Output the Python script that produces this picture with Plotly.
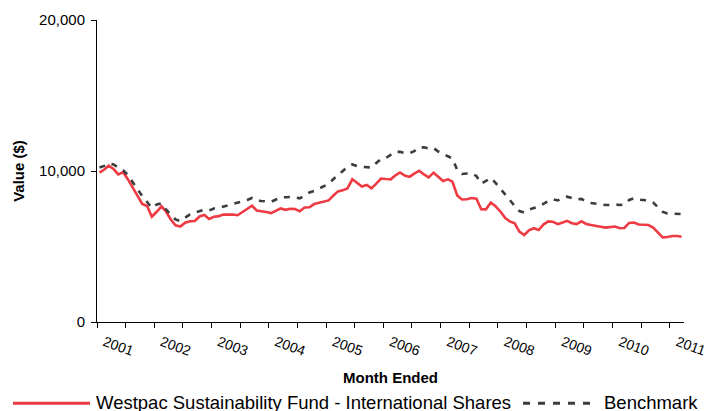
import plotly.graph_objects as go
import pandas as pd

# ---- data -------------------------------------------------------------
months = pd.date_range("2001-01-01", periods=123, freq="MS")

fund = [9890, 10100, 10350, 10130, 9780, 9920, 9460, 8910, 8360, 7815,
        7680, 6970, 7300, 7660, 7320, 6790, 6400, 6320, 6580, 6670,
        6690, 6990, 7090, 6820, 6970, 7010, 7110, 7140, 7120, 7070,
        7260, 7460, 7700, 7380, 7350, 7280, 7210, 7370, 7520, 7430,
        7500, 7480, 7330, 7580, 7600, 7810, 7890, 7960, 8050, 8380,
        8650, 8720, 8850, 9450, 9230, 8970, 9070, 8850, 9160, 9500,
        9470, 9450, 9700, 9900, 9700, 9610, 9830, 10020, 9770, 9580,
        9890, 9600, 9340, 9450, 9300, 8380, 8110, 8130, 8210, 8160,
        7470, 7460, 7910, 7660, 7320, 6890, 6660, 6540, 5990, 5760,
        6070, 6210, 6090, 6450, 6660, 6640, 6480, 6590, 6700, 6540,
        6480, 6670, 6490, 6420, 6340, 6310, 6250, 6260, 6320, 6210,
        6230, 6560, 6590, 6460, 6420, 6420, 6260, 5930, 5610, 5630,
        5700, 5700, 5650]

bench = [10230, 10340, 10500, 10430, 10240, 10050, 9740, 9240, 8750, 8340,
         7950, 7550, 7780, 7850, 7450, 7090, 6790, 6690, 6890, 7120,
         7250, 7350, 7430, 7380, 7520, 7560, 7640, 7710, 7780, 7880,
         7990, 8080, 8210, 8050, 8010, 7980, 7960, 8110, 8250, 8260,
         8280, 8250, 8190, 8380, 8580, 8680, 8840, 9010, 9140, 9470,
         9740, 10000, 10270, 10430, 10330, 10280, 10270, 10230, 10530, 10800,
         10860, 11060, 11260, 11270, 11190, 11170, 11320, 11560, 11570, 11490,
         11520, 11290, 11130, 10990, 10830, 10070, 9800, 9830, 9850, 9670,
         9170, 9340, 9540, 9210, 8840, 8480, 8080, 7680, 7350, 7250,
         7450, 7550, 7650, 7820, 8010, 8130, 8050, 8210, 8300, 8210,
         8110, 8150, 7980, 7880, 7830, 7780, 7750, 7750, 7780, 7750,
         7780, 8080, 8190, 8110, 8080, 8050, 7910, 7620, 7290, 7190,
         7170, 7190, 7150]

year_ticks = ["2001-01-01", "2002-01-01", "2003-01-01", "2004-01-01",
              "2005-01-01", "2006-01-01", "2007-01-01", "2008-01-01",
              "2009-01-01", "2010-01-01", "2011-01-01"]
year_labels = ["2001", "2002", "2003", "2004", "2005", "2006",
               "2007", "2008", "2009", "2010", "2011"]
y_ticks = [0, 10000, 20000]

fund_name = "Westpac Sustainability Fund - International Shares"
bench_name = "Benchmark"

# ---- style -----------------------------------------------------------
FONT = "Liberation Sans, Arial, sans-serif"
RED = "#EE3B43"
DARK = "#3C3C3C"
W, H = 710, 411
ML, MR, MT, MB = 97, 26, 20, 89
PW, PH = W - ML - MR, H - MT - MB


def px_x(px):
    return (px - ML) / PW


def px_y(py):
    return (MT + PH - py) / PH


fig = go.Figure()
fig.add_trace(go.Scatter(x=months, y=fund, mode="lines", name=fund_name,
                         line=dict(color=RED, width=2.6), showlegend=False))
fig.add_trace(go.Scatter(x=months, y=bench, mode="lines", name=bench_name,
                         line=dict(color=DARK, width=2.6, dash="6px,7px"),
                         showlegend=False))

fig.update_layout(
    width=W, height=H,
    margin=dict(l=ML, r=MR, t=MT, b=MB, pad=0, autoexpand=False),
    paper_bgcolor="white", plot_bgcolor="white",
    font=dict(family=FONT, color="black"),
    xaxis=dict(
        type="date", automargin=False,
        range=["2000-12-16 12:00", "2011-03-16 12:00"],
        tickmode="array", tickvals=year_ticks, ticktext=year_labels,
        ticks="", tickangle=20, tickfont=dict(size=14),
        ticklabelshift=5, ticklabelstandoff=6,
        minor=dict(tickmode="linear", tick0="2000-12-16 12:00", dtick="M6",
                   ticks="outside", ticklen=5, tickwidth=1, tickcolor="black",
                   showgrid=False),
        showline=True, linecolor="black", linewidth=1,
        showgrid=False, zeroline=False,
        title=dict(text="<b>Month Ended</b>", font=dict(size=15), standoff=14),
    ),
    yaxis=dict(
        automargin=False,
        range=[0, 20000], tickmode="array", tickvals=y_ticks,
        tickformat=",", ticks="outside", ticklen=5, tickwidth=1,
        tickcolor="black", tickfont=dict(size=15), ticklabelstandoff=3,
        showline=True, linecolor="black", linewidth=1,
        showgrid=False, zeroline=False,
        title=dict(text="<b>Value ($)</b>", font=dict(size=15), standoff=10),
    ),
)

# ---- legend (drawn below the plot, as in the original) ---------------
leg_y = px_y(403.3)
fig.add_shape(type="line", xref="paper", yref="paper",
              x0=px_x(13), x1=px_x(90), y0=leg_y, y1=leg_y,
              line=dict(color=RED, width=3))
fig.add_shape(type="line", xref="paper", yref="paper",
              x0=px_x(523), x1=px_x(590), y0=leg_y, y1=leg_y,
              line=dict(color=DARK, width=3, dash="7px,8px"))
fig.add_annotation(text=fund_name, xref="paper", yref="paper",
                   x=px_x(94), y=px_y(402), xanchor="left", yanchor="middle",
                   showarrow=False, font=dict(size=18.5, family=FONT, color="black"))
fig.add_annotation(text=bench_name, xref="paper", yref="paper",
                   x=px_x(602), y=px_y(402), xanchor="left", yanchor="middle",
                   showarrow=False, font=dict(size=18.5, family=FONT, color="black"))

fig.write_html("out.html",
               config={"displayModeBar": False},
               post_script="document.body.style.margin='0';"
                           "document.body.style.overflow='hidden';")
